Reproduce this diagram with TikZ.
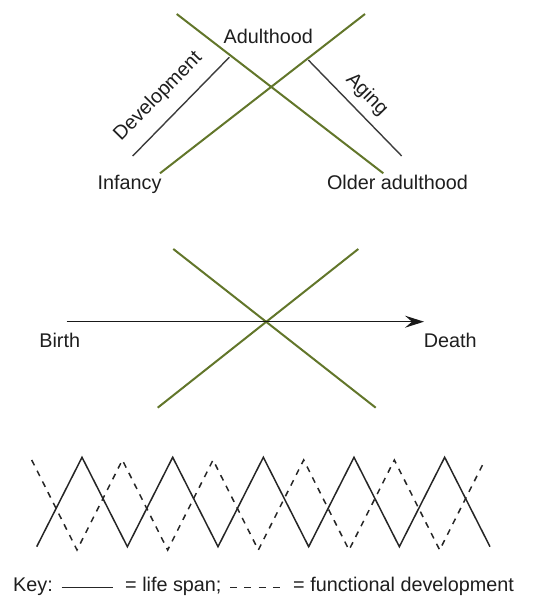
\documentclass[tikz,border=0pt]{standalone}
\usepackage{fontspec}
\setmainfont{Liberation Sans}
\usetikzlibrary{arrows.meta}
\definecolor{olive}{RGB}{98,118,42}
\definecolor{txt}{RGB}{30,30,30}
\definecolor{graybar}{RGB}{60,60,60}
\tikzset{
  lbl/.style={inner sep=0pt, text=txt, font=\fontsize{19.8}{23}\selectfont},
  greenline/.style={draw=olive, line width=2pt},
  grayline/.style={draw=graybar, line width=1.4pt},
  zig/.style={draw=black!85, line width=1.5pt, line join=miter},
  zigdash/.style={zig, dash pattern=on 6pt off 6pt},
}
\begin{document}
\begin{tikzpicture}[x=1pt,y=1pt]
\useasboundingbox (0,0) rectangle (533,596);
% ---------- top cross ----------
\coordinate (g1a) at (176.7,582);
\coordinate (g1b) at (383.3,422.7);
\coordinate (g2a) at (160,422.7);
\coordinate (g2b) at (365,582);
\draw[greenline] (g1a) -- (g1b);
\draw[greenline] (g2a) -- (g2b);
\coordinate (dl1) at (132.7,440);
\coordinate (dl2) at (229.3,538.7);
\coordinate (ag1) at (308.3,536);
\coordinate (ag2) at (401.7,440);
\draw[grayline] (dl1) -- (dl2);
\draw[grayline] (ag1) -- (ag2);
\node[lbl, anchor=base] (adult) at (268.3,552.7) {Adulthood};
\node[lbl, rotate=45.5] (devel) at (158.3,499.3) {Development};
\node[lbl, rotate=-45.5] (aging) at (366.7,501) {Aging};
\node[lbl, anchor=base] (inf) at (129.5,406) {Infancy};
\node[lbl, anchor=base] (older) at (397.5,406) {Older adulthood};
% ---------- middle cross ----------
\coordinate (g3a) at (173.3,347);
\coordinate (g3b) at (375.7,188.3);
\coordinate (g4a) at (157.7,188.3);
\coordinate (g4b) at (358.3,347);
\draw[greenline] (g3a) -- (g3b);
\draw[greenline] (g4a) -- (g4b);
\coordinate (arrA) at (66.7,274.3);
\coordinate (arrB) at (424,274.3);
\draw[line width=1.3pt, black!90, -{Stealth[length=19pt,width=12pt,inset=7pt]}] (arrA) -- (arrB);
\node[lbl, anchor=base] (birth) at (59.7,248.7) {Birth};
\node[lbl, anchor=base] (death) at (450.3,248.7) {Death};
% ---------- zigzags ----------
\draw[zig] (36.7,49.3)
  \foreach \k in {1,...,10} {
    -- ({36.7+45.33*\k}, {ifthenelse(mod(\k,2)==1,138.7,49.3)})
  };
\draw[zigdash] (31.7,136)
  \foreach \k in {1,...,10} {
    -- ({31.7+45.33*\k}, {ifthenelse(mod(\k,2)==1,46,136)})
  };
% ---------- key ----------
\node[lbl, anchor=base west] (key) at (13,4.5) {Key:};
\coordinate (k1a) at (61.7,8.3);
\coordinate (k1b) at (113.3,8.3);
\draw[black!85, line width=1.2pt] (k1a) -- (k1b);
\node[lbl, anchor=base west] (ls) at (125,4.5) {= life span;};
\coordinate (k2a) at (230,8.3);
\coordinate (k2b) at (287,8.3);
\draw[black!85, line width=1.2pt, dash pattern=on 7pt off 7.3pt] (k2a) -- (k2b);
\node[lbl, anchor=base west] (fd) at (293,4.5) {= functional development};
\end{tikzpicture}
\end{document}
